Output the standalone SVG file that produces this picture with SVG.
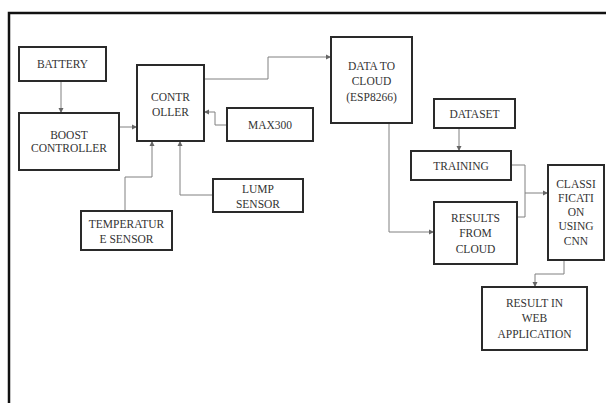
<svg xmlns="http://www.w3.org/2000/svg" width="606" height="403" viewBox="0 0 606 403">
<defs>
<style>
.box{fill:#fff;stroke:#2a2a2a;stroke-width:2}
.t{font-family:'Liberation Serif','DejaVu Serif',serif;font-size:11.5px;fill:#333;text-anchor:middle}
.c{fill:none;stroke:#808080;stroke-width:1}
</style>
<marker id="a" markerWidth="6" markerHeight="6" refX="5" refY="3" orient="auto" markerUnits="userSpaceOnUse">
<path d="M0,0.5 L5,3 L0,5.5 z" fill="#666"/>
</marker>
</defs>
<rect width="606" height="403" fill="#fff"/>
<path d="M9,403 V13 H606" fill="none" stroke="#111" stroke-width="2.5"/>
<g id="connectors">
<path class="c" d="M61,81 V113" marker-end="url(#a)"/>
<path class="c" d="M119,127 H137" marker-end="url(#a)"/>
<path class="c" d="M204,79 H268 V57 H331" marker-end="url(#a)"/>
<path class="c" d="M227,125 H215 V112 H204" marker-end="url(#a)"/>
<path class="c" d="M125,211 V177 H152 V141" marker-end="url(#a)"/>
<path class="c" d="M213,195 H180 V141" marker-end="url(#a)"/>
<path class="c" d="M389,123 V232 H434" marker-end="url(#a)"/>
<path class="c" d="M459,128 V151" marker-end="url(#a)"/>
<path class="c" d="M511,165 H525 V193 H548" marker-end="url(#a)"/>
<path class="c" d="M517,217 H525 V193"/>
<path class="c" d="M564,260 V274 H535 V287" marker-end="url(#a)"/>
</g>
<g id="battery"><rect class="box" x="19" y="47" width="87" height="34"/><text class="t" x="62.5" y="68">BATTERY</text></g>
<g id="boost"><rect class="box" x="19" y="113" width="100" height="57"/><text class="t" x="69" y="139">BOOST</text><text class="t" x="69" y="152">CONTROLLER</text></g>
<g id="controller"><rect class="box" x="137" y="65" width="67" height="76"/><text class="t" x="170.5" y="101">CONTR</text><text class="t" x="170.5" y="116">OLLER</text></g>
<g id="max300"><rect class="box" x="227" y="108" width="86" height="33"/><text class="t" x="270" y="129">MAX300</text></g>
<g id="lump"><rect class="box" x="213" y="179" width="90" height="33"/><text class="t" x="258" y="193">LUMP</text><text class="t" x="258" y="208">SENSOR</text></g>
<g id="temperature"><rect class="box" x="81" y="211" width="91" height="39"/><text class="t" x="126.5" y="228">TEMPERATUR</text><text class="t" x="126.5" y="243">E SENSOR</text></g>
<g id="datacloud"><rect class="box" x="331" y="37" width="81" height="86"/><text class="t" x="371.5" y="70">DATA TO</text><text class="t" x="371.5" y="85">CLOUD</text><text class="t" x="371.5" y="101">(ESP8266)</text></g>
<g id="dataset"><rect class="box" x="434" y="99" width="81" height="29"/><text class="t" x="474.5" y="118">DATASET</text></g>
<g id="training"><rect class="box" x="411" y="151" width="100" height="29"/><text class="t" x="461" y="170">TRAINING</text></g>
<g id="results"><rect class="box" x="434" y="202" width="83" height="62"/><text class="t" x="475.5" y="222">RESULTS</text><text class="t" x="475.5" y="237">FROM</text><text class="t" x="475.5" y="253">CLOUD</text></g>
<g id="classification"><rect class="box" x="548" y="165" width="56" height="95"/><text class="t" x="576" y="188">CLASSI</text><text class="t" x="576" y="202">FICATI</text><text class="t" x="576" y="216">ON</text><text class="t" x="576" y="230">USING</text><text class="t" x="576" y="245">CNN</text></g>
<g id="webapp"><rect class="box" x="482" y="287" width="105" height="63"/><text class="t" x="534.5" y="307">RESULT IN</text><text class="t" x="534.5" y="322">WEB</text><text class="t" x="534.5" y="338">APPLICATION</text></g>
</svg>
